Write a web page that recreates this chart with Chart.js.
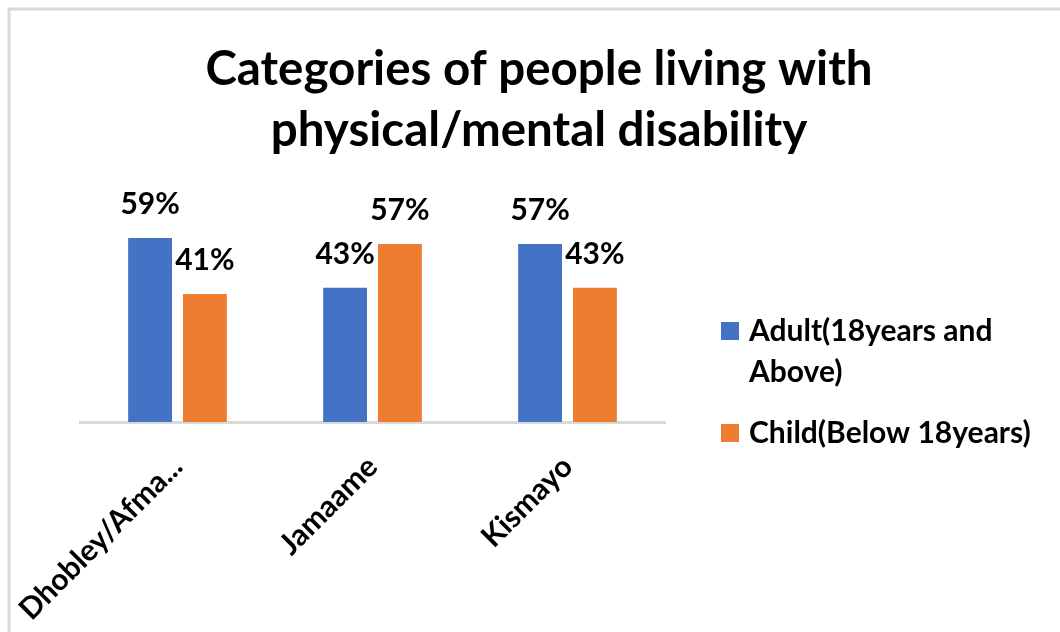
<!DOCTYPE html>
<html>
<head>
<meta charset="utf-8">
<script src="https://cdn.jsdelivr.net/npm/chart.js@4.4.0/dist/chart.umd.min.js"></script>
<style>
  html, body { margin: 0; padding: 0; background: #fff; overflow: hidden; }
  #wrap { position: relative; width: 1060px; height: 632px; }
</style>
</head>
<body>
<div id="wrap"><canvas id="c" width="1060" height="632"></canvas></div>
<script>
// Chart data
const titleLines = ['Categories of people living with', 'physical/mental disability'];
const categories = ['Dhobley/Afma...', 'Jamaame', 'Kismayo'];
const seriesNames = ['Adult(18years and Above)', 'Child(Below 18years)'];
const adultValues = [59, 43, 57];
const childValues = [41, 57, 43];

const FONT = 'Lato, "Open Sans", sans-serif';
const TEXT = '#000000';
const BLUE = '#4472C4';
const ORANGE = '#ED7D31';

// Light frame along the left and top edges
const framePlugin = {
  id: 'frame',
  beforeDraw(chart) {
    const ctx = chart.ctx;
    ctx.save();
    ctx.fillStyle = '#ffffff';
    ctx.fillRect(0, 0, chart.width, chart.height);
    ctx.strokeStyle = '#d9d9d9';
    ctx.lineWidth = 3;
    ctx.beginPath();
    ctx.moveTo(9, chart.height);
    ctx.lineTo(9, 9);
    ctx.lineTo(chart.width, 9);
    ctx.stroke();
    ctx.restore();
  }
};

// Percentage labels above each bar
const valueLabels = {
  id: 'valueLabels',
  afterDatasetsDraw(chart, args, opts) {
    const ctx = chart.ctx;
    ctx.save();
    ctx.font = `bold ${opts.size}px ${FONT}`;
    ctx.fillStyle = TEXT;
    ctx.textAlign = 'center';
    ctx.textBaseline = 'alphabetic';
    chart.data.datasets.forEach((ds, di) => {
      const meta = chart.getDatasetMeta(di);
      meta.data.forEach((bar, i) => {
        ctx.fillText(ds.data[i] + '%', bar.x, bar.y - opts.gap);
      });
    });
    ctx.restore();
  }
};

// Legend on the right with wrapped entry text
const sideLegend = {
  id: 'sideLegend',
  afterDraw(chart, args, opts) {
    const ctx = chart.ctx;
    ctx.save();
    ctx.font = `bold ${opts.size}px ${FONT}`;
    ctx.textBaseline = 'middle';
    ctx.textAlign = 'left';
    let y = opts.top;
    chart.data.datasets.forEach((ds) => {
      // word wrap to the legend width
      const words = ds.label.split(' ');
      const lines = [];
      let line = '';
      words.forEach(w => {
        const test = line ? line + ' ' + w : w;
        if (line && ctx.measureText(test).width > opts.maxWidth) {
          lines.push(line);
          line = w;
        } else {
          line = test;
        }
      });
      if (line) lines.push(line);

      ctx.fillStyle = ds.backgroundColor;
      ctx.fillRect(opts.x, y - opts.box / 2, opts.box, opts.box);
      ctx.fillStyle = TEXT;
      lines.forEach((l, k) => {
        ctx.fillText(l, opts.x + opts.textGap, y + k * opts.lineHeight);
      });
      y += (lines.length - 1) * opts.lineHeight + opts.itemGap;
    });
    ctx.restore();
  }
};

new Chart(document.getElementById('c'), {
  type: 'bar',
  data: {
    labels: categories,
    datasets: [
      { label: seriesNames[0], data: adultValues, backgroundColor: BLUE },
      { label: seriesNames[1], data: childValues, backgroundColor: ORANGE }
    ]
  },
  options: {
    responsive: false,
    animation: false,
    devicePixelRatio: 1,
    layout: { padding: { left: 18, right: 0, top: 0, bottom: 0 } },
    datasets: {
      bar: { categoryPercentage: 0.5624, barPercentage: 0.8 }
    },
    plugins: {
      legend: { display: false },
      tooltip: { enabled: false },
      title: {
        display: true,
        text: titleLines,
        color: TEXT,
        font: { family: FONT, weight: 'bold', size: 47.5, lineHeight: 1.29 },
        padding: { top: 39, bottom: 42 }
      },
      valueLabels: { size: 30, gap: 24 },
      sideLegend: {
        size: 30, x: 721, top: 331, box: 18, textGap: 28,
        lineHeight: 41, itemGap: 61, maxWidth: 300
      }
    },
    scales: {
      x: {
        grid: { display: false },
        border: { display: true, color: '#d9d9d9', width: 3 },
        ticks: {
          color: TEXT,
          font: { family: FONT, weight: 'bold', size: 30 },
          minRotation: 45,
          maxRotation: 45,
          autoSkip: false,
          padding: 19
        },
        afterFit(scale) {
          scale.height = 632 - 422;
          scale.paddingLeft = 0;
          scale.paddingRight = 0;
        }
      },
      y: {
        position: 'left',
        min: 0,
        max: 70,
        ticks: { display: false },
        grid: { display: false },
        border: { display: false },
        afterFit(scale) { scale.width = 62; }
      },
      side: {
        type: 'linear',
        position: 'right',
        ticks: { display: false },
        grid: { display: false },
        border: { display: false },
        afterFit(scale) { scale.width = 395; }
      }
    }
  },
  plugins: [framePlugin, valueLabels, sideLegend]
});
</script>
</body>
</html>
